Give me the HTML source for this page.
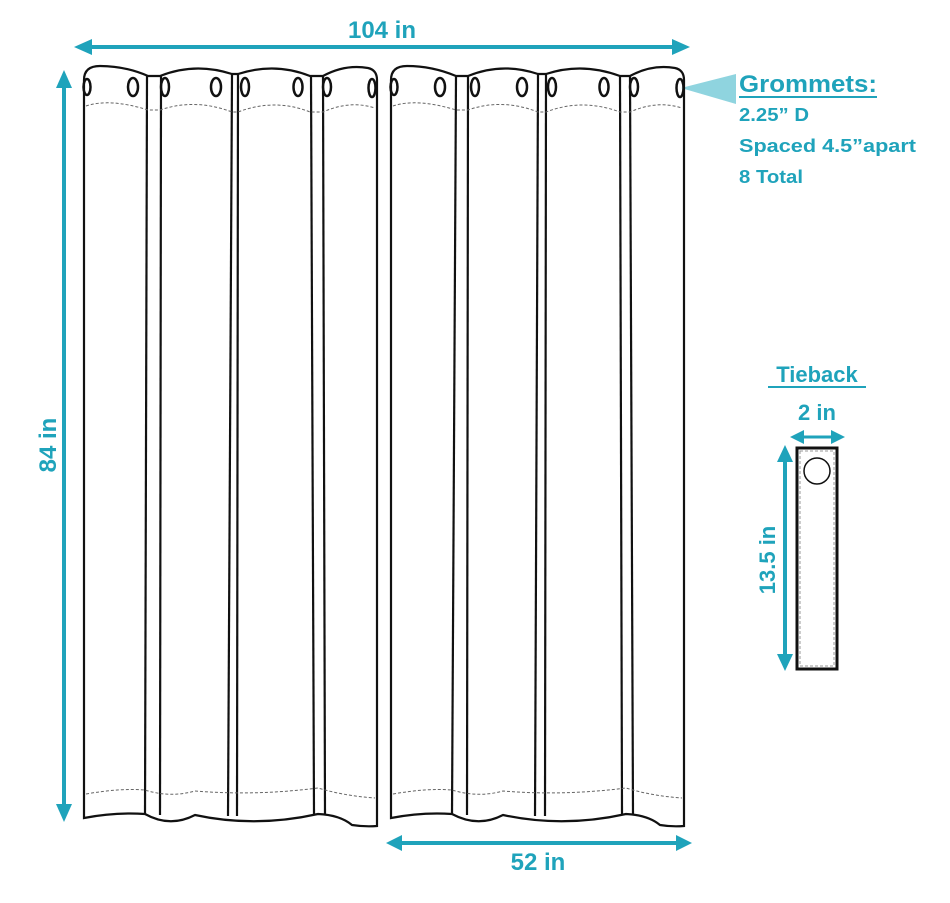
<!DOCTYPE html>
<html><head><meta charset="utf-8"><style>
body{margin:0;background:#fff;}
svg{display:block;}
text{font-family:"Liberation Sans","DejaVu Sans",sans-serif;fill:#1fa3bb;font-weight:bold;}
</style></head><body>
<svg width="950" height="903" viewBox="0 0 950 903" xmlns="http://www.w3.org/2000/svg">
<g stroke="#1fa3bb" stroke-width="4" fill="#1fa3bb">
<line x1="88" y1="47" x2="676" y2="47"/>
<path d="M74,47 L92,39 L92,55 z" stroke="none"/>
<path d="M690,47 L672,39 L672,55 z" stroke="none"/>
<line x1="64" y1="84" x2="64" y2="808"/>
<path d="M64,70 L56,88 L72,88 z" stroke="none"/>
<path d="M64,822 L56,804 L72,804 z" stroke="none"/>
<line x1="398" y1="843" x2="680" y2="843"/>
<path d="M386,843 L402,835 L402,851 z" stroke="none"/>
<path d="M692,843 L676,835 L676,851 z" stroke="none"/>
<line x1="785" y1="460" x2="785" y2="656"/>
<path d="M785,445 L777,462 L793,462 z" stroke="none"/>
<path d="M785,671 L777,654 L793,654 z" stroke="none"/>
<line x1="800" y1="437" x2="834" y2="437" stroke-width="3"/>
<path d="M790,437 L804,430 L804,444 z" stroke="none"/>
<path d="M845,437 L831,430 L831,444 z" stroke="none"/>
</g>
<path d="M681,88 L736,74 L736,104 z" fill="#8fd4df"/>
<text x="382" y="38" font-size="24" text-anchor="middle">104 in</text>
<text x="538" y="870" font-size="24" text-anchor="middle">52 in</text>
<text transform="translate(56,445) rotate(-90)" font-size="24" text-anchor="middle">84 in</text>
<text transform="translate(775,560) rotate(-90)" font-size="22" text-anchor="middle">13.5 in</text>
<text x="817" y="420" font-size="22" text-anchor="middle">2 in</text>
<text x="817" y="382" font-size="22" text-anchor="middle">Tieback</text>
<line x1="768" y1="387" x2="866" y2="387" stroke="#1fa3bb" stroke-width="2"/>
<text x="739" y="92" font-size="24" textLength="138" lengthAdjust="spacingAndGlyphs">Grommets:</text>
<line x1="739" y1="97" x2="877" y2="97" stroke="#1fa3bb" stroke-width="2"/>
<text x="739" y="121" font-size="18" textLength="70" lengthAdjust="spacingAndGlyphs">2.25” D</text>
<text x="739" y="152" font-size="18" textLength="177" lengthAdjust="spacingAndGlyphs">Spaced 4.5”apart</text>
<text x="739" y="183" font-size="18" textLength="64" lengthAdjust="spacingAndGlyphs">8 Total</text>

<g fill="none" stroke="#111" stroke-width="2.2">
<path d="M84,818 L84,80 Q84,66 100,66 Q125,66 148,76 L160,76 Q195,62 232,74 L238,74 Q275,62 310,76 L323,76 Q345,64 368,68 Q377,70 377,80 L377,826 Q365,827 352,825 Q340,815 318,814 Q255,828 195,815 Q170,828 145,814 Q115,812 84,818 z"/>
<line x1="147" y1="76" x2="145" y2="814"/><line x1="161" y1="76" x2="160" y2="815"/>
<line x1="232" y1="74" x2="228" y2="816"/><line x1="238" y1="74" x2="237" y2="816"/>
<line x1="311" y1="76" x2="314" y2="814"/><line x1="323" y1="76" x2="325" y2="815"/>
<path d="M391,818 L391,80 Q391,66 407,66 Q432,66 456,76 L468,76 Q502,62 538,74 L546,74 Q582,62 620,76 L630,76 Q652,64 675,68 Q684,70 684,80 L684,826 Q672,827 660,825 Q648,815 626,814 Q563,828 503,815 Q478,828 452,814 Q422,812 391,818 z"/>
<line x1="456" y1="76" x2="452" y2="814"/><line x1="468" y1="76" x2="467" y2="815"/>
<line x1="538" y1="74" x2="535" y2="816"/><line x1="546" y1="74" x2="545" y2="816"/>
<line x1="620" y1="76" x2="622" y2="814"/><line x1="630" y1="76" x2="633" y2="815"/>
<rect x="797" y="448" width="40" height="221" stroke-width="3"/>
<circle cx="817" cy="471" r="13" stroke-width="1.5"/>
</g>
<g fill="none" stroke="#111" stroke-width="2.5">
<ellipse cx="87" cy="87" rx="3.5" ry="8"/><ellipse cx="133" cy="87" rx="5" ry="9"/>
<ellipse cx="165" cy="87" rx="4" ry="9"/><ellipse cx="216" cy="87" rx="5" ry="9"/>
<ellipse cx="245" cy="87" rx="4" ry="9"/><ellipse cx="298" cy="87" rx="4.5" ry="9"/>
<ellipse cx="327" cy="87" rx="4" ry="9"/><ellipse cx="372" cy="88" rx="3.5" ry="9"/>
<ellipse cx="394" cy="87" rx="3.5" ry="8"/><ellipse cx="440" cy="87" rx="5" ry="9"/>
<ellipse cx="475" cy="87" rx="4" ry="9"/><ellipse cx="522" cy="87" rx="5" ry="9"/>
<ellipse cx="552" cy="87" rx="4" ry="9"/><ellipse cx="604" cy="87" rx="4.5" ry="9"/>
<ellipse cx="634" cy="87" rx="4" ry="9"/><ellipse cx="680" cy="88" rx="3.5" ry="9"/>
</g>
<g fill="none" stroke="#666" stroke-width="1" stroke-dasharray="3,2">
<path d="M86,106 Q110,98 148,110 L160,110 Q195,98 232,112 L238,112 Q275,98 310,112 L323,112 Q350,100 375,108"/>
<path d="M393,106 Q417,98 456,110 L468,110 Q502,98 538,112 L546,112 Q582,98 620,112 L630,112 Q657,100 682,108"/>
<path d="M86,794 Q120,788 145,790 Q170,798 195,791 Q255,796 318,788 Q345,796 375,798"/>
<path d="M393,794 Q427,788 452,790 Q478,798 503,791 Q563,796 626,788 Q652,796 682,798"/>
<rect x="800" y="451" width="34" height="215" stroke="#999"/>
</g>
</svg>
</body></html>
